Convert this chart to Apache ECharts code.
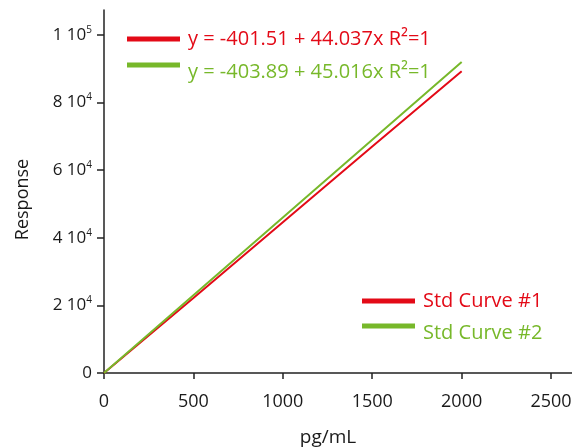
<!DOCTYPE html>
<html>
<head>
<meta charset="utf-8">
<script src="https://cdn.jsdelivr.net/npm/echarts@6/dist/echarts.min.js"></script>
<style>html,body{margin:0;padding:0;background:#fff;}#c{width:572px;height:447px;}</style>
</head>
<body>
<div id="c"></div>
<script>
const concentrations = [0, 500, 1000, 1500, 2000];
const curve1 = [0, 22200, 44600, 67000, 89300];
const curve2 = [0, 23000, 46000, 69000, 92000];
const seriesNames = ['Std Curve #1', 'Std Curve #2'];
const equations = ['y = -401.51 + 44.037x R²=1', 'y = -403.89 + 45.016x R²=1'];
const xTicks = [0, 500, 1000, 1500, 2000, 2500];
const yTicks = [0, 20000, 40000, 60000, 80000, 100000];
const yTickLabels = ['0', '2 10|4', '4 10|4', '6 10|4', '8 10|4', '1 10|5'];

const RED = '#e30a17';
const GREEN = '#77b82a';
const FONT = 'Open Sans';

const chart = echarts.init(document.getElementById('c'));

function legendItem(idx, color, text, left, top, shiftDown) {
  return {
    orient: 'vertical', left: left, top: top,
    icon: 'rect', itemWidth: 53, itemHeight: 5, itemGap: 0,
    padding: 0, selectedMode: false,
    data: [{ name: seriesNames[idx] }],
    formatter: function () { return '{t|' + text + '}'; },
    textStyle: {
      fontFamily: FONT, fontSize: 20, color: color,
      rich: { t: { fontFamily: FONT, fontSize: 20, color: color, padding: [shiftDown * 2, 0, 0, 3] } }
    }
  };
}

const option = {
  animation: false,
  textStyle: { fontFamily: FONT },
  grid: { left: 104, right: 0, top: 10, bottom: 74, containLabel: false, outerBoundsMode: 'none' },
  legend: [
    legendItem(0, RED, equations[0], 127, 29, 0),
    legendItem(1, GREEN, equations[1], 127, 62, 7),
    legendItem(0, RED, seriesNames[0], 362, 291, 0),
    legendItem(1, GREEN, seriesNames[1], 362, 323, 7)
  ],
  xAxis: {
    type: 'value', min: 0, max: 2617,
    name: 'pg/mL', nameLocation: 'middle', nameGap: 55,
    nameTextStyle: { fontFamily: FONT, fontSize: 19, color: '#1a1a1a', padding: [0, 20, 0, 0] },
    splitLine: { show: false },
    axisLine: { show: true, lineStyle: { color: '#222', width: 1.5 } },
    axisTick: { show: true, length: 6, inside: false, customValues: xTicks, lineStyle: { color: '#222', width: 1.5 } },
    axisLabel: {
      customValues: xTicks, margin: 20, fontFamily: FONT, fontSize: 18, color: '#1a1a1a',
      formatter: function (v) { return String(v); }
    }
  },
  yAxis: {
    type: 'value', min: 0, max: 107400,
    name: 'Response', nameLocation: 'middle', nameGap: 72,
    nameTextStyle: { fontFamily: FONT, fontSize: 18, color: '#1a1a1a', padding: [0, 16, 0, 0] },
    splitLine: { show: false },
    axisLine: { show: true, lineStyle: { color: '#222', width: 1.5 } },
    axisTick: { show: true, length: 7, customValues: yTicks, lineStyle: { color: '#222', width: 1.5 } },
    axisLabel: {
      customValues: yTicks, margin: 12, color: '#1a1a1a',
      formatter: function (v) {
        const i = yTicks.indexOf(v);
        const t = i >= 0 ? yTickLabels[i] : '';
        const parts = t.split('|');
        if (parts.length === 1) return '{n|' + parts[0] + '}';
        return '{n|' + parts[0] + '}{s|' + parts[1] + '}';
      },
      rich: {
        n: { fontFamily: FONT, fontSize: 17, color: '#1a1a1a' },
        s: { fontFamily: FONT, fontSize: 10, color: '#1a1a1a', padding: [0, 0, 10, 0] }
      }
    }
  },
  series: [
    {
      name: seriesNames[0], type: 'line', showSymbol: false, symbol: 'none',
      data: concentrations.map((x, i) => [x, curve1[i]]),
      lineStyle: { color: RED, width: 2 }, itemStyle: { color: RED }
    },
    {
      name: seriesNames[1], type: 'line', showSymbol: false, symbol: 'none',
      data: concentrations.map((x, i) => [x, curve2[i]]),
      lineStyle: { color: GREEN, width: 2 }, itemStyle: { color: GREEN }
    }
  ]
};
chart.setOption(option);
</script>
</body>
</html>
